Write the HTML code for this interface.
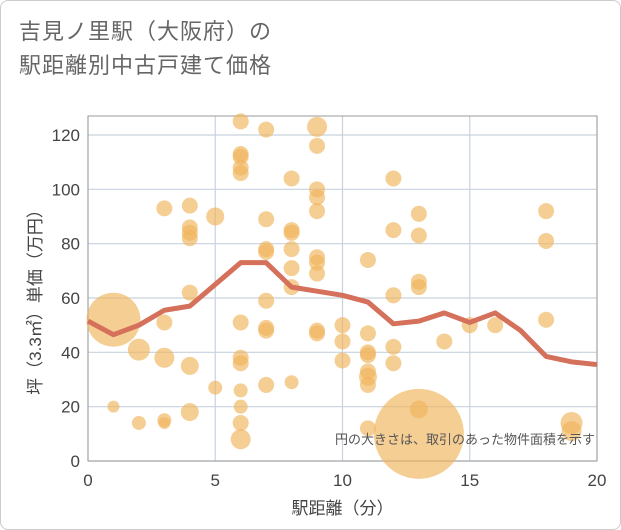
<!DOCTYPE html>
<html><head><meta charset="utf-8"><style>
body{margin:0;background:#fff;font-family:"Liberation Sans","Noto Sans CJK JP",sans-serif}
#wrap{position:relative;width:619px;height:528px;border:1px solid #ccc;border-radius:8px;overflow:hidden}
#title{position:absolute;left:18px;top:14px;font-size:22px;line-height:34px;color:#666;letter-spacing:1px}
svg{position:absolute;left:0;top:0}
</style></head><body>
<div id="wrap">
<div id="title">吉見ノ里駅（大阪府）の<br>駅距離別中古戸建て価格</div>
<svg id="c" width="621" height="530"></svg>
</div>
<script>
const xTicks=[0,5,10,15,20];
const yTicks=[0,20,40,60,80,100,120];
const pointX=[1,1,2,2,3,3,3,3,3,4,4,4,4,4,4,4,5,5,6,6,6,6,6,6,6,6,6,6,6,6,7,7,7,7,7,7,7,7,8,8,8,8,8,8,8,9,9,9,9,9,9,9,9,9,9,10,10,10,11,11,11,11,11,11,11,11,12,12,12,12,12,13,13,13,13,13,13,14,15,16,18,18,18,19,19];
const pointY=[52,20,41,14,93,51,38,15,14,94,86,84,82,62,35,18,90,27,125,113,112,108,106,51,38,36,26,20,14,8,122,89,78,77,59,49,48,28,104,85,84,78,71,64,29,123,116,100,97,92,75,73,69,48,47,50,44,37,74,47,40,39,33,31,28,12,104,85,61,42,36,91,83,66,64,19,10,44,50,50,92,81,52,14,11];
const pointR=[27,6,11,7,8,8,10,7,6,8,8,8,8,8,9,9,9,7,8,8,8,8,8,8,8,8,7,7,8,10,8,8,8,8,8,8,8,8,8,8,8,8,8,8,7,10,8,8,8,8,8,8,8,8,8,8,8,8,8,8,8,8,8,9,8,8,8,8,8,8,8,8,8,8,8,9,45,8,8,8,8,8,8,11,10];
const lineX=[0,1,2,3,4,5,6,7,8,9,10,11,12,13,14,15,16,17,18,19,20];
const lineY=[51.5,46.5,50,55.5,57,65,73,73,64,62.5,61,58.5,50.5,51.5,54.5,51,54.5,48,38.5,36.5,35.5];
const L=87,R=596,T=115,B=460;
const sx=v=>L+(v-0)/20*(R-L);
const sy=v=>B-v/120*(B-134);
const svg=document.getElementById('c');
const NS='http://www.w3.org/2000/svg';
function mk(t,a){const e=document.createElementNS(NS,t);for(const k in a)e.setAttribute(k,a[k]);svg.appendChild(e);return e;}
yTicks.forEach(v=>{
 const g=mk('line',{x1:L,x2:R,y1:sy(v),y2:sy(v),stroke:'#c8d3de','stroke-width':1.2});
 
 
 const t=mk('text',{x:L-8,y:sy(v)+6,'text-anchor':'end','font-size':17,fill:'#444'});
 t.textContent=v;
 
 
});
xTicks.forEach(v=>{
 const g=mk('line',{x1:sx(v),x2:sx(v),y1:T,y2:B,stroke:'#c8d3de','stroke-width':1.2});
 
 
 const t=mk('text',{x:sx(v),y:B+25,'text-anchor':'middle','font-size':17,fill:'#444'});
 t.textContent=v;
 
 
});
const fr=mk('rect',{x:L,y:T,width:R-L,height:B-T,fill:'none',stroke:'#999','stroke-width':1});


pointX.forEach((x,i)=>{
 const c=mk('circle',{cx:sx(x),cy:sy(pointY[i]),r:pointR[i],fill:'rgba(240,180,90,0.65)'});
 
 
});
const ln=mk('polyline',{points:lineX.map((x,i)=>sx(x)+','+sy(lineY[i])).join(' '),fill:'none',stroke:'#d5705a','stroke-width':5,'stroke-linejoin':'round'});


const note=mk('text',{x:594,y:443,'text-anchor':'end','font-size':13,fill:'#555'});
note.textContent='円の大きさは、取引のあった物件面積を示す';


const xt=mk('text',{x:(L+R)/2,y:513,'text-anchor':'middle','font-size':17,fill:'#444'});
xt.textContent='駅距離（分）';


const yt=mk('text',{x:0,y:0,'text-anchor':'middle','font-size':17,fill:'#444',transform:'translate(40,297) rotate(-90)'});
yt.textContent='坪（3.3㎡）単価（万円）';


</script>
</body></html>
